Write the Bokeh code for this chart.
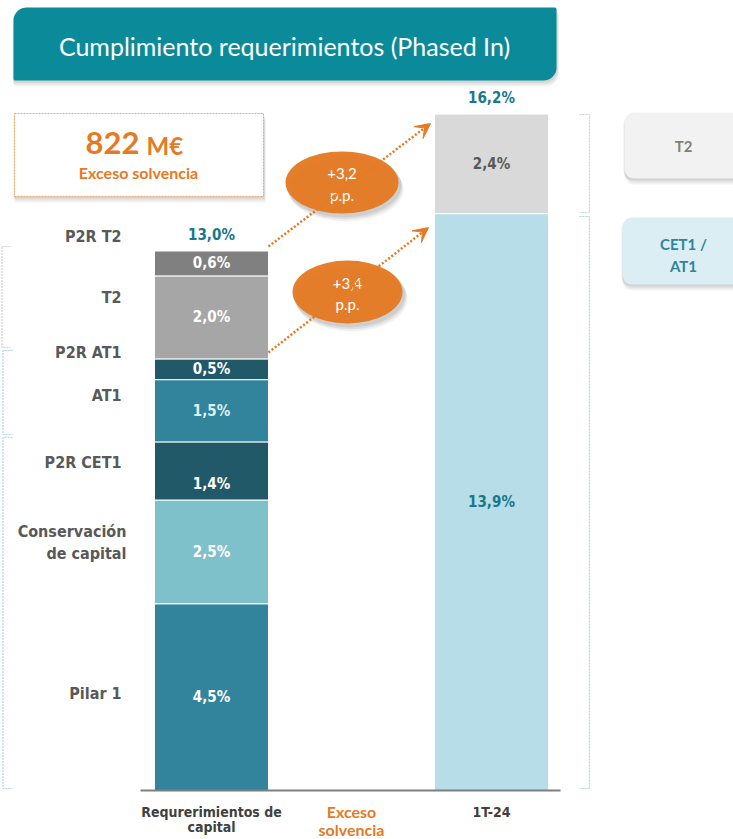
import numpy as np
from bokeh.plotting import figure
from bokeh.models import Range1d, Arrow, VeeHead
from bokeh.core.properties import value
from bokeh.embed import file_html
from bokeh.resources import INLINE

# ---------------- data ----------------
title = "Cumplimiento requerimientos (Phased In)"
categories = ["Requrerimientos de\ncapital", "Exceso\nsolvencia", "1T-24"]
req_segments = ["Pilar 1", "Conservación\nde capital", "P2R CET1", "AT1", "P2R AT1", "T2", "P2R T2"]
req_values = [4.5, 2.5, 1.4, 1.5, 0.5, 2.0, 0.6]
act_segments = ["CET1 /\nAT1", "T2"]
act_values = [13.9, 2.4]
totals = [13.0, 16.2]
increments = ["+3,2\np.p.", "+3,4\np.p."]
excess_value = "822"
excess_unit = "M€"
excess_label = "Exceso solvencia"

# ---------------- styles ----------------
req_colors = ["#31849B", "#7FC1CB", "#215968", "#31849B", "#215968", "#A6A6A6", "#808080"]
req_text_colors = ["white", "white", "white", "#DDF1F6", "white", "white", "white"]
act_colors = ["#B7DDE8", "#D9D9D9"]
act_text_colors = ["#17788A", "#595959"]
ORANGE = "#E57A22"
TEAL = "#0B8B9A"
TEAL_TXT = "#17788A"
GRAY_TXT = "#595959"
NARROW = value("DejaVu Sans Condensed, Liberation Sans")
CAL = value("Lato")

W, H = 733, 839
# pixel <-> data helpers (category spacing 140px, 41.5px per %)
def X(px):
    return (px - 211.0) / 140.0

def Y(py):
    return (790.0 - py) / 41.5

def DX(d):
    return d / 140.0

def DY(d):
    return d / 41.5

p = figure(width=W, height=H, x_range=Range1d(X(0), X(W)), y_range=Range1d(Y(H), Y(0)),
           output_backend="svg", toolbar_location=None, x_axis_location=None, y_axis_location=None,
           min_border=0, outline_line_color=None, background_fill_color="white",
           border_fill_color="white")
p.grid.visible = False


def rrect(x0, y0, x1, y1, r):
    tl, tr, br, bl = r
    pts = []
    def arc(cx, cy, rad, a0, a1):
        if rad <= 0:
            pts.append((cx, cy))
            return
        for a in np.linspace(a0, a1, 10):
            pts.append((cx + rad * np.cos(a), cy + rad * np.sin(a)))
    arc(x0 + tl, y0 + tl, tl, np.pi, 1.5 * np.pi)
    arc(x1 - tr, y0 + tr, tr, 1.5 * np.pi, 2 * np.pi)
    arc(x1 - br, y1 - br, br, 0, 0.5 * np.pi)
    arc(x0 + bl, y1 - bl, bl, 0.5 * np.pi, np.pi)
    xs = [X(a) for a, b in pts]
    ys = [Y(b) for a, b in pts]
    return xs, ys


def box(x0, y0, x1, y1, r, fill, line=None, dash="solid", shadow=True, lw=1):
    if shadow:
        for ox, oy, al in [(1, 6, 0.05), (1, 4, 0.06), (0, 2, 0.07)]:
            xs, ys = rrect(x0 + ox - 1, y0 + oy, x1 + ox + 1, y1 + oy, r)
            p.patch(xs, ys, fill_color="black", fill_alpha=al, line_color=None)
    xs, ys = rrect(x0, y0, x1, y1, r)
    p.patch(xs, ys, fill_color=fill, line_color=line, line_dash=dash, line_width=lw)


def txt(px, py, s, size, color, font=NARROW, style="bold", align="center"):
    p.text(x=[X(px)], y=[Y(py)], text=[s], text_font=font, text_font_size=size,
           text_font_style=style, text_color=color, text_align=align, text_baseline="middle")


# ---------------- header ----------------
box(13, 7, 556, 80, (13, 2, 13, 2), TEAL)
txt(284, 45, title, "25px", "white", font=CAL, style="normal")

# ---------------- excess box ----------------
box(14, 113, 263, 196, (0, 0, 0, 0), "white", line="#F4A66A", dash="2 1", shadow=True)
txt(139, 142, excess_value, "31px", ORANGE, font=CAL, align="right")
txt(146, 145, excess_unit, "24px", ORANGE, font=CAL, align="left")
txt(138, 172, excess_label, "16px", ORANGE, font=CAL)

# ---------------- brackets ----------------
def bracket(pts, color):
    p.line([X(a) for a, b in pts], [Y(b) for a, b in pts], line_color=color, line_width=1.2,
           line_dash="2 1")

bracket([(10, 246), (1.5, 246), (1.5, 347), (10, 347)], "#D0D0D0")
bracket([(12, 350), (2.5, 350), (2.5, 434), (12, 434)], "#A9D6E1")
bracket([(12, 437), (2.5, 437), (2.5, 788), (12, 788)], "#A9D6E1")
bracket([(579, 114), (589, 114), (589, 212), (579, 212)], "#D0D0D0")
bracket([(579, 216), (589, 216), (589, 788), (579, 788)], "#A9D6E1")

# ---------------- right boxes ----------------
box(624, 112, 760, 178, (10, 10, 10, 10), "#F2F2F2")
txt(683, 145, act_segments[1], "15px", "#7F7F7F", font=CAL)
box(622, 217, 760, 284, (10, 10, 10, 10), "#DAEEF3")
for i, line in enumerate(act_segments[0].split("\n")):
    txt(683, 243 + 22 * i, line, "15px", "#31849B", font=CAL)

# ---------------- bars ----------------
bw = 114 / 140.0
req_top = np.cumsum(req_values)
req_bot = req_top - np.array(req_values)
p.vbar(x=[0] * len(req_values), bottom=req_bot, top=req_top, width=bw, fill_color=req_colors,
       line_color="white", line_width=1)
act_top = np.cumsum(act_values)
act_bot = act_top - np.array(act_values)
p.vbar(x=[2] * len(act_values), bottom=act_bot, top=act_top, width=bw, fill_color=act_colors,
       line_color="white", line_width=1)

def fmt(v):
    return f"{v:.1f}".replace(".", ",") + "%"

label_shift = {"P2R CET1": -DY(13)}
p.text(x=[0] * len(req_values),
       y=[b + v / 2 + label_shift.get(s, 0) for b, v, s in zip(req_bot, req_values, req_segments)],
       text=[fmt(v) for v in req_values], text_font=NARROW, text_font_size="15px",
       text_font_style="bold", text_color=req_text_colors, text_align="center",
       text_baseline="middle")
p.text(x=[2] * len(act_values), y=[b + v / 2 for b, v in zip(act_bot, act_values)],
       text=[fmt(v) for v in act_values], text_font=NARROW, text_font_size="15px",
       text_font_style="bold", text_color=act_text_colors, text_align="center",
       text_baseline="middle")
p.text(x=[0, 2], y=[req_top[-1] + DY(16), act_top[-1] + DY(16)], text=[fmt(t) for t in totals],
       text_font=NARROW, text_font_size="15px", text_font_style="bold", text_color=TEAL_TXT,
       text_align="center", text_baseline="middle")

# segment names at left (pixel y of each line)
seg_py = {"P2R T2": [236], "T2": [297], "P2R AT1": [352], "AT1": [395], "P2R CET1": [462],
          "Conservación\nde capital": [531, 553], "Pilar 1": [693]}
seg_px = {"Conservación\nde capital": 126}
for s in req_segments:
    for line, py in zip(s.split("\n"), seg_py[s]):
        txt(seg_px.get(s, 121), py, line, "16px", GRAY_TXT, align="right")

# baseline
p.segment(x0=[X(140)], y0=[0], x1=[X(560)], y1=[0], line_color="#7F7F7F", line_width=2)

# category labels
cat_colors = ["#404040", ORANGE, "#404040"]
cat_fonts = [NARROW, CAL, NARROW]
cat_sizes = ["14px", "16px", "14px"]
cat_mid = [(811, 826), (811, 829), (811, 826)]
for i, c in enumerate(categories):
    for j, line in enumerate(c.split("\n")):
        p.text(x=[i], y=[Y(cat_mid[i][j])], text=[line], text_font=cat_fonts[i],
               text_font_size=cat_sizes[i], text_font_style="bold", text_color=cat_colors[i],
               text_align="center", text_baseline="middle")

# ---------------- arrows & increments ----------------
arrows = [((268, 246), (430, 123)), ((268, 352), (428, 227))]
for (a, b) in arrows:
    p.add_layout(Arrow(end=VeeHead(size=15, fill_color=ORANGE, line_color=ORANGE),
                       x_start=X(a[0]), y_start=Y(a[1]), x_end=X(b[0]), y_end=Y(b[1]),
                       line_color=ORANGE, line_width=2.5, line_dash="2 2"))

ell = [(341.5, 182, 113, 62), (347, 291.5, 110, 63)]
for (cx, cy, w, h), inc in zip(ell, increments):
    for ox, oy, al in [(4, 7, 0.05), (3, 5, 0.07), (2, 3, 0.08)]:
        p.ellipse(x=[X(cx + ox)], y=[Y(cy + oy)], width=DX(w + 2), height=DY(h + 2),
                  fill_color="black", fill_alpha=al, line_color=None)
    p.ellipse(x=[X(cx)], y=[Y(cy)], width=DX(w), height=DY(h), fill_color=ORANGE,
              fill_alpha=0.96, line_color=None)
    for j, line in enumerate(inc.split("\n")):
        txt(cx, cy - 9 + 21 * j, line, "15px", "white", font=CAL, style="normal")

open("out.html", "w").write(file_html(p, INLINE))
